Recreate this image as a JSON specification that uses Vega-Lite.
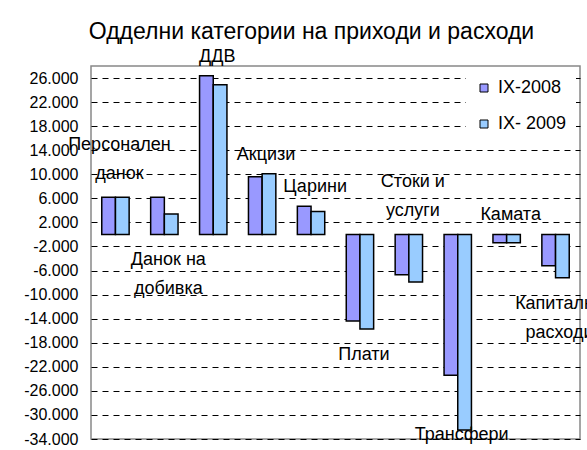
{
  "$schema": "https://vega.github.io/schema/vega-lite/v6.json",
  "width": 489,
  "height": 373,
  "autosize": {"type": "none"},
  "padding": {"left": 91, "top": 66, "right": 7, "bottom": 11},
  "background": "white",
  "title": {
    "text": "Одделни категории на приходи и расходи",
    "font": "Liberation Sans",
    "fontSize": 23,
    "fontWeight": "normal",
    "color": "black",
    "anchor": "middle",
    "frame": "group",
    "dx": -24,
    "offset": 4
  },
  "data": {
    "values": [
      {"cat": "Персонален данок", "label": "Персонален\nданок", "side": "above", "IX-2008": 6200, "IX- 2009": 6200},
      {"cat": "Данок на добивка", "label": "Данок на\nдобивка", "side": "below", "IX-2008": 6200, "IX- 2009": 3400},
      {"cat": "ДДВ", "label": "ДДВ", "side": "above", "IX-2008": 26400, "IX- 2009": 24900},
      {"cat": "Акцизи", "label": "Акцизи", "side": "above", "IX-2008": 9600, "IX- 2009": 10100},
      {"cat": "Царини", "label": "Царини", "side": "above", "IX-2008": 4700, "IX- 2009": 3800},
      {"cat": "Плати", "label": "Плати", "side": "below", "IX-2008": -14400, "IX- 2009": -15700},
      {"cat": "Стоки и услуги", "label": "Стоки и\nуслуги", "side": "above", "IX-2008": -6700, "IX- 2009": -7900},
      {"cat": "Трансфери", "label": "Трансфери", "side": "below", "IX-2008": -23400, "IX- 2009": -32500},
      {"cat": "Камата", "label": "Камата", "side": "above", "IX-2008": -1400, "IX- 2009": -1400},
      {"cat": "Капитални расходи", "label": "Капитални\nрасходи", "side": "below", "IX-2008": -5200, "IX- 2009": -7200}
    ]
  },
  "encoding": {
    "x": {
      "field": "cat",
      "type": "nominal",
      "sort": null,
      "axis": null,
      "scale": {"paddingInner": 0.44, "paddingOuter": 0.22}
    }
  },
  "layer": [
    {
      "transform": [{"fold": ["IX-2008", "IX- 2009"], "as": ["series", "value"]}],
      "mark": {"type": "bar", "stroke": "black", "strokeWidth": 1.5},
      "encoding": {
        "xOffset": {"field": "series", "type": "nominal", "sort": ["IX-2008", "IX- 2009"]},
        "y": {
          "field": "value",
          "type": "quantitative",
          "scale": {"domain": [-34000, 28000], "nice": false, "zero": false},
          "axis": {
            "title": null,
            "values": [-34000, -30000, -26000, -22000, -18000, -14000, -10000, -6000, -2000, 2000, 6000, 10000, 14000, 18000, 22000, 26000],
            "tickCount": 16,
            "labelOverlap": false,
            "labelFlush": false,
            "labelExpr": "(datum.value < 0 ? '-' : '') + replace(format(abs(datum.value), ','), ',', '.')",
            "domain": false,
            "ticks": false,
            "labelPadding": 13,
            "labelFont": "Liberation Sans",
            "labelFontSize": 16,
            "labelColor": "black",
            "grid": true,
            "gridColor": "black",
            "gridOpacity": 1,
            "gridWidth": 1,
            "gridDash": [6, 5]
          }
        },
        "color": {
          "field": "series",
          "type": "nominal",
          "scale": {"domain": ["IX-2008", "IX- 2009"], "range": ["#9999FF", "#99CCFF"]},
          "legend": {
            "title": null,
            "orient": "top-right",
            "offset": 4,
            "fillColor": "white",
            "padding": 9,
            "rowPadding": 18,
            "labelOffset": 5,
            "labelFont": "Liberation Sans",
            "labelFontSize": 18,
            "labelColor": "black",
            "symbolType": "square",
            "symbolSize": 64,
            "symbolStrokeColor": "black",
            "symbolStrokeWidth": 1
          }
        }
      }
    },
    {
      "transform": [
        {"filter": "datum.side == 'above' && indexof(datum.label, '\\n') < 0"},
        {"calculate": "max(datum['IX-2008'], datum['IX- 2009'], 0)", "as": "anchor"}
      ],
      "mark": {"type": "text", "baseline": "bottom", "align": "center", "dx": 4, "dy": -10, "font": "Liberation Sans", "fontSize": 18, "color": "black"},
      "encoding": {
        "y": {"field": "anchor", "type": "quantitative"},
        "text": {"field": "label"}
      }
    },
    {
      "transform": [
        {"filter": "datum.side == 'above' && indexof(datum.label, '\\n') >= 0"},
        {"calculate": "max(datum['IX-2008'], datum['IX- 2009'], 0)", "as": "anchor"}
      ],
      "mark": {"type": "text", "baseline": "bottom", "align": "center", "dx": 4, "dy": -43, "lineBreak": "\n", "lineHeight": 29, "font": "Liberation Sans", "fontSize": 18, "color": "black"},
      "encoding": {
        "y": {"field": "anchor", "type": "quantitative"},
        "text": {"field": "label"}
      }
    },
    {
      "transform": [
        {"filter": "datum.side == 'below'"},
        {"calculate": "max(min(datum['IX-2008'], datum['IX- 2009'], 0), -29000)", "as": "anchor"}
      ],
      "mark": {"type": "text", "baseline": "top", "align": "center", "dx": 4, "dy": 17, "lineBreak": "\n", "lineHeight": 29, "font": "Liberation Sans", "fontSize": 18, "color": "black"},
      "encoding": {
        "y": {"field": "anchor", "type": "quantitative"},
        "text": {"field": "label"}
      }
    }
  ],
  "config": {
    "view": {"stroke": "#888888", "strokeWidth": 1.5}
  }
}
